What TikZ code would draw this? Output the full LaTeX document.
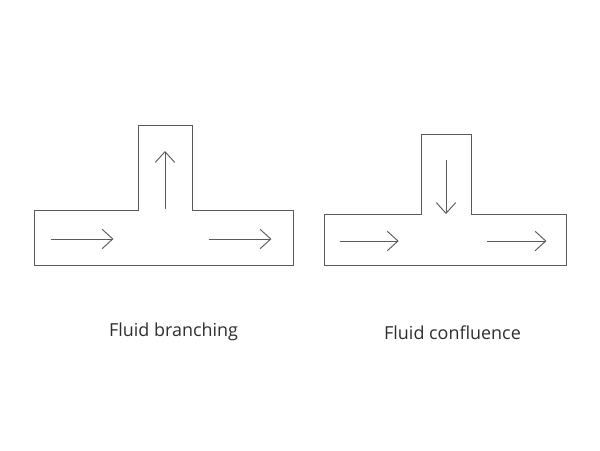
\documentclass[tikz,border=0pt]{standalone}
\usepackage{fontspec}
\setmainfont{Open Sans}
\usetikzlibrary{arrows.meta}
\definecolor{ink}{HTML}{5A5A5A}
\definecolor{txt}{HTML}{2E2E2E}
\tikzset{
  pipe/.style={draw=ink,line width=0.7pt,line join=miter},
  flow/.style={draw=ink,line width=0.7pt,-{Straight Barb[length=8pt,width=14.5pt,line width=0.7pt]}},
  caption/.style={text=txt,font=\fontsize{13.45pt}{16pt}\selectfont,inner sep=0pt,anchor=center}
}
\begin{document}
\begin{tikzpicture}[x=0.75pt,y=-0.75pt]
\useasboundingbox (0,0) rectangle (600,450);
% Fluid branching
\draw[pipe] (34.5,210.5) -- (138.5,210.5) -- (138.5,125) -- (192,125) -- (192,210.5) -- (293.5,210.5) -- (293.5,265) -- (34.5,265) -- cycle;
\coordinate (a1) at (50.5,239); \coordinate (a2) at (113.5,239);
\coordinate (b1) at (208.5,239); \coordinate (b2) at (271.5,239);
\coordinate (c1) at (165,209); \coordinate (c2) at (165,151);
\draw[flow] (a1) -- (a2);
\draw[flow] (b1) -- (b2);
\draw[flow] (c1) -- (c2);
\node[caption] (branching) at (173.5,331.5) {Fluid branching};
% Fluid confluence
\draw[pipe] (324.5,214.5) -- (421.5,214.5) -- (421.5,134.5) -- (471.5,134.5) -- (471.5,214.5) -- (566.5,214.5) -- (566.5,265.5) -- (324.5,265.5) -- cycle;
\coordinate (d1) at (339.5,241); \coordinate (d2) at (398.7,241);
\coordinate (e1) at (487,241); \coordinate (e2) at (546.5,241);
\coordinate (f1) at (446,159.5); \coordinate (f2) at (446,214);
\draw[flow] (d1) -- (d2);
\draw[flow] (e1) -- (e2);
\draw[flow] (f1) -- (f2);
\node[caption] (confluence) at (452.5,333) {Fluid confluence};
\end{tikzpicture}
\end{document}
